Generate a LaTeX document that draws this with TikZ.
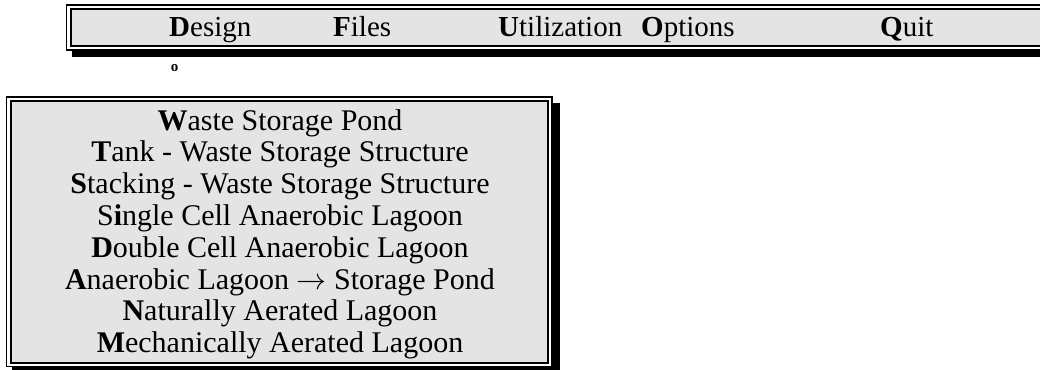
\RequirePackage{fix-cm}
\documentclass[tikz,border=0pt]{standalone}
\usepackage{fontspec}
\setmainfont{Liberation Serif}
\definecolor{panel}{RGB}{228,228,228}
\tikzset{
  outerframe/.style={draw=black,line width=1.8pt,fill=white},
  innerframe/.style={draw=black,line width=2pt,fill=panel},
  shadowbox/.style={fill=black},
  menuitem/.style={anchor=base west,inner sep=0pt,font=\fontsize{29}{32}\selectfont},
  listitem/.style={anchor=base,inner sep=0pt,font=\fontsize{30}{32}\selectfont},
  marker/.style={anchor=base,inner sep=0pt,font=\fontsize{15}{16}\selectfont\bfseries},
}
\begin{document}
\begin{tikzpicture}[x=1pt,y=-1pt]
\useasboundingbox (0,0) rectangle (1040,369);
\clip (0,0) rectangle (1040,369);
% menu bar
\fill[shadowbox] (72,12) rectangle (1060,57);
\draw[outerframe] (66.5,5) rectangle (1060,50);
\draw[innerframe] (71,9) rectangle (1060,46);
\node[menuitem] (design) at (169,37) {\textbf{D}esign};
\node[menuitem] (files) at (333,37) {\textbf{F}iles};
\node[menuitem] (util) at (498,37) {\textbf{U}tilization};
\node[menuitem] (opts) at (641,37) {\textbf{O}ptions};
\node[menuitem] (quit) at (880,37) {\textbf{Q}uit};
\node[marker] (mark) at (174.5,71) {o};
% list box
\fill[shadowbox] (12,103) rectangle (560,380);
\draw[outerframe] (6.5,97) rectangle (552,366.5);
\draw[innerframe] (11,101) rectangle (548,362.5);
\node[listitem] (l1) at (280,130) {\textbf{W}aste Storage Pond};
\node[listitem] (l2) at (280,161.8) {\textbf{T}ank - Waste Storage Structure};
\node[listitem] (l3) at (280,193.6) {\textbf{S}tacking - Waste Storage Structure};
\node[listitem] (l4) at (280,225.4) {S\textbf{i}ngle Cell Anaerobic Lagoon};
\node[listitem] (l5) at (280,257.2) {\textbf{D}ouble Cell Anaerobic Lagoon};
\node[listitem] (l6) at (280,289) {\textbf{A}naerobic Lagoon $\rightarrow$ Storage Pond};
\node[listitem] (l7) at (280,320.8) {\textbf{N}aturally Aerated Lagoon};
\node[listitem] (l8) at (280,352.6) {\textbf{M}echanically Aerated Lagoon};
\end{tikzpicture}
\end{document}
